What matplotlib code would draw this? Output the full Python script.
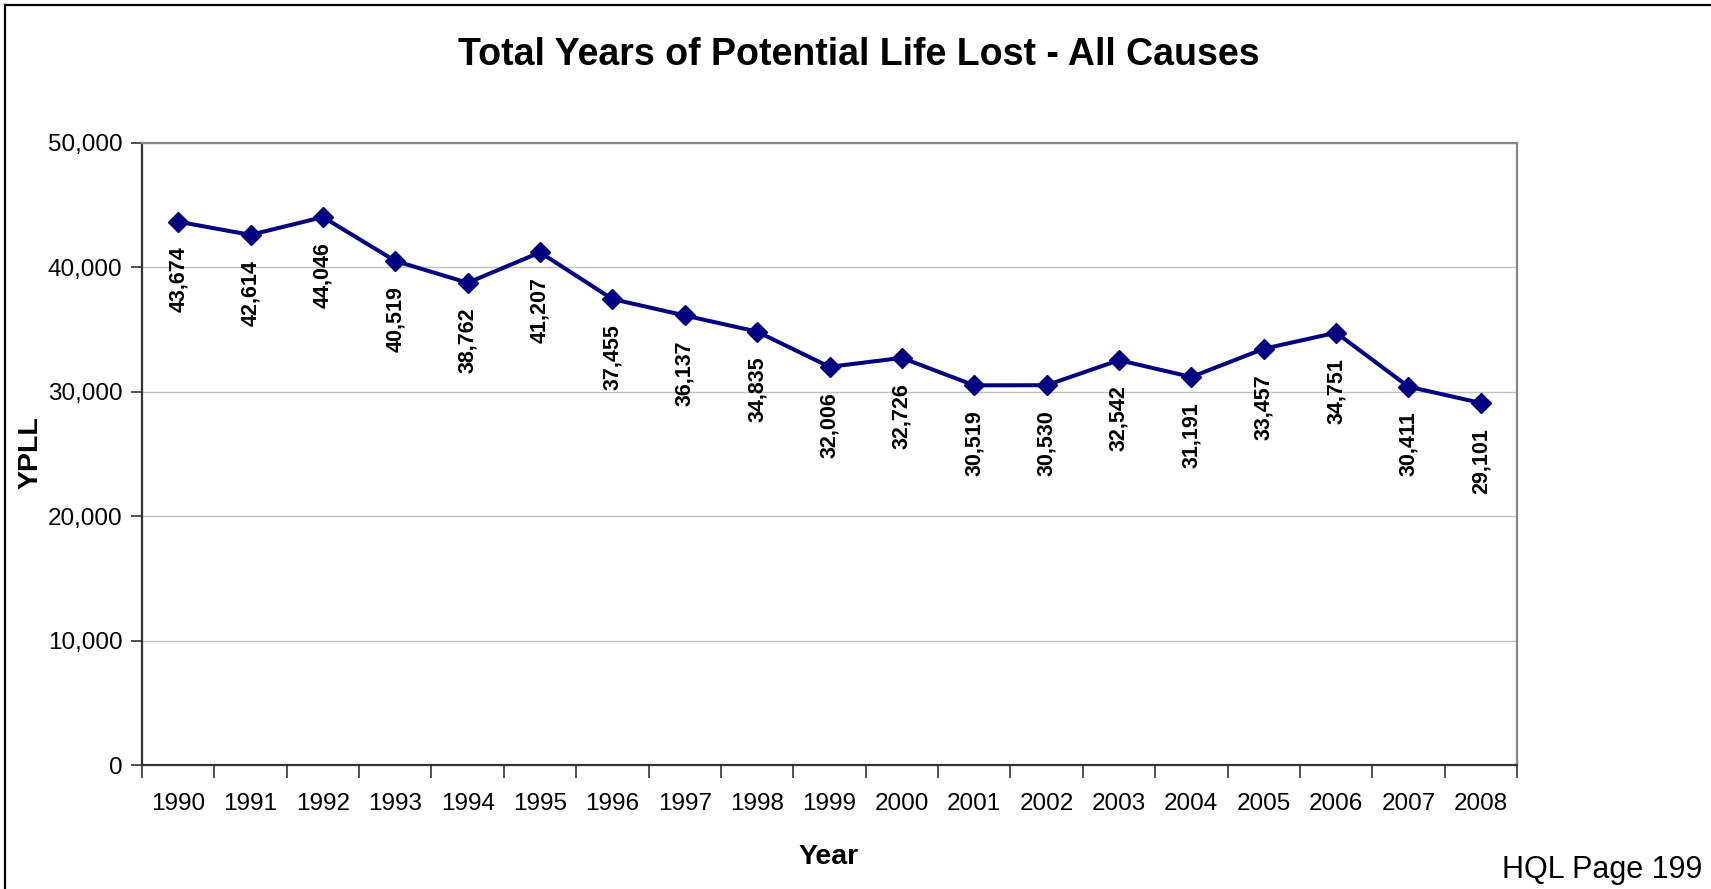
import matplotlib
matplotlib.use("Agg")
import matplotlib.pyplot as plt
import numpy as np
from matplotlib.lines import Line2D

plt.rcParams['font.family'] = ['Liberation Sans', 'DejaVu Sans']

years = ['1990', '1991', '1992', '1993', '1994', '1995', '1996', '1997', '1998', '1999',
         '2000', '2001', '2002', '2003', '2004', '2005', '2006', '2007', '2008']
ypll = [43674, 42614, 44046, 40519, 38762, 41207, 37455, 36137, 34835, 32006,
        32726, 30519, 30530, 32542, 31191, 33457, 34751, 30411, 29101]
yticks = [0, 10000, 20000, 30000, 40000, 50000]

W, H = 1711, 889
fig = plt.figure(figsize=(W / 100, H / 100), dpi=100)
ax = fig.add_axes([142 / W, 1 - 765 / H, (1517 - 142) / W, (765 - 143) / H])

x = np.arange(len(years))
navy = '#000080'
ax.plot(x, ypll, color=navy, lw=2.9, marker='D', ms=10.5, zorder=3)

for i, v in enumerate(ypll):
    ax.annotate("{:,}".format(v), (x[i], v), xytext=(0, -18), textcoords='offset points',
                rotation=90, ha='center', va='top', fontsize=15.5, fontweight='bold')

ax.set_xlim(-0.5, len(years) - 0.5)
ax.set_ylim(0, 50000)
ax.set_yticks(yticks)
ax.set_yticklabels(["{:,}".format(t) for t in yticks], fontsize=17.5)
ax.yaxis.grid(True, color='#c0c0c0', lw=1)
ax.set_axisbelow(True)

# Excel style: ticks between categories, labels centred
ax.set_xticks(np.arange(-0.5, len(years), 1.0))
ax.set_xticklabels([])
ax.set_xticks(x, minor=True)
ax.set_xticklabels(years, minor=True, fontsize=17.5)
ax.tick_params(axis='x', which='major', length=9, width=1.2, color='#333333', direction='out')
ax.tick_params(axis='x', which='minor', length=0, pad=20)
ax.tick_params(axis='y', length=8, width=1.2, color='#333333', direction='out', pad=6)

for s in ['left', 'bottom']:
    ax.spines[s].set_color('#333333')
    ax.spines[s].set_linewidth(1.6)
for s in ['top', 'right']:
    ax.spines[s].set_color('#888888')
    ax.spines[s].set_linewidth(1.6)

fig.text(859 / W, 1 - 55 / H, "Total Years of Potential Life Lost - All Causes",
         ha='center', va='center', fontsize=27, fontweight='bold')
fig.text(829 / W, 1 - 857 / H, "Year", ha='center', va='center', fontsize=20.5, fontweight='bold')
fig.text(30 / W, 1 - 453 / H, "YPLL", ha='center', va='center', rotation=90,
         fontsize=20.5, fontweight='bold')
fig.text(1702 / W, 1 - 870 / H, "HQL Page 199", ha='right', va='center', fontsize=22)

# page border (top and left only visible)
fig.add_artist(Line2D([5 / W, 5 / W], [0, 1 - 5 / H], color='black', lw=1.6))
fig.add_artist(Line2D([5 / W, 1], [1 - 5 / H, 1 - 5 / H], color='black', lw=1.6))

fig.savefig("out.png", dpi=100)
